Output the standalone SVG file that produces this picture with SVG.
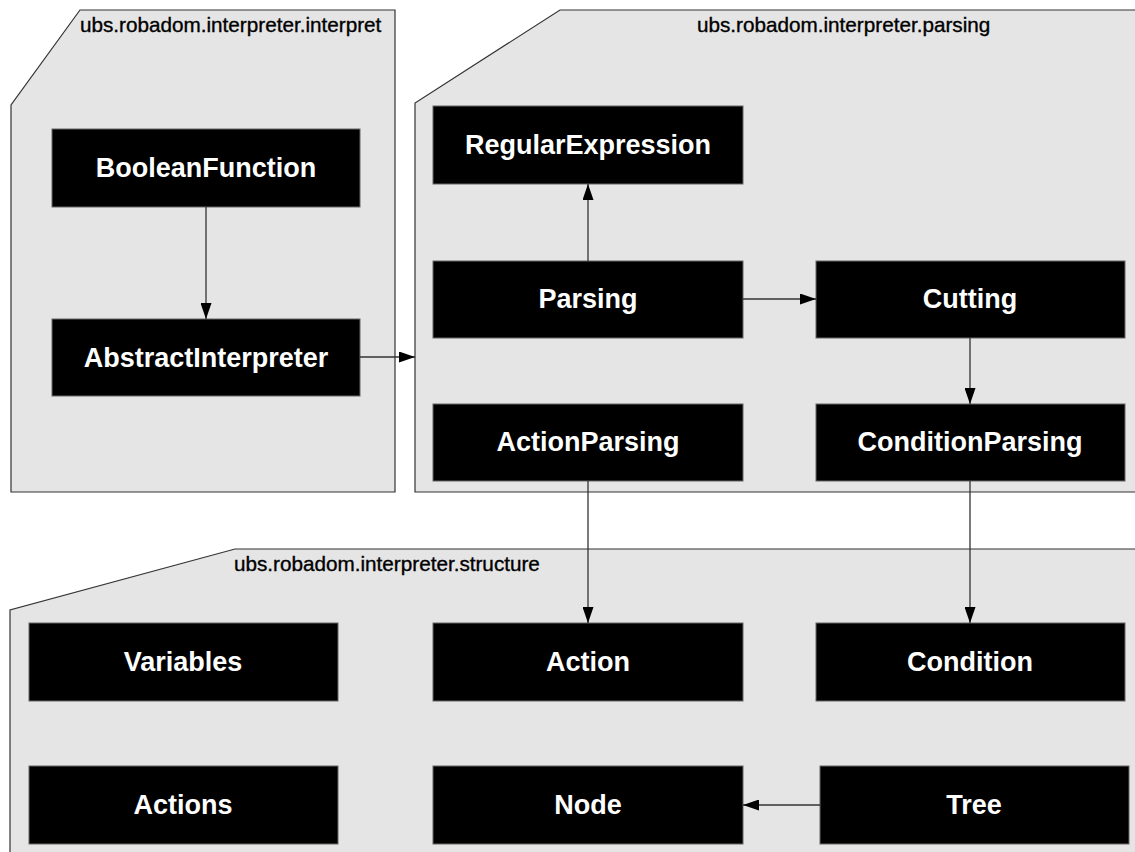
<svg xmlns="http://www.w3.org/2000/svg" width="1135" height="852" viewBox="0 0 1135 852">
<defs>
<marker id="arr" markerWidth="17" markerHeight="11" refX="16" refY="5.5" orient="auto" markerUnits="userSpaceOnUse">
<path d="M0,0 L16,5.5 L0,11 Z" fill="#000"/>
</marker>
<style>
.pkg{fill:#e5e5e5;stroke:#333;stroke-width:1.2}
.pl{font-family:"Liberation Sans",Arial,sans-serif;font-size:20.7px;fill:#000;stroke:#000;stroke-width:0.35}
.box{fill:#000;stroke:#666;stroke-width:1}
.nt{font-family:"Liberation Sans",Arial,sans-serif;font-size:27px;font-weight:bold;fill:#fff;text-anchor:middle}
.edge{stroke:#333;stroke-width:1.3;fill:none;marker-end:url(#arr)}
</style>
</defs>
<rect width="1135" height="852" fill="#fff"/>
<g id="pkg-interpret">
<path class="pkg" d="M80,10 L395,10 L395,492 L11,492 L11,105 Z"/>
<text class="pl" x="80" y="32">ubs.robadom.interpreter.interpret</text>
</g>
<g id="pkg-parsing">
<path class="pkg" d="M560,10 L1140,10 L1140,492 L415,492 L415,103 Z"/>
<text class="pl" x="697" y="32">ubs.robadom.interpreter.parsing</text>
</g>
<g id="pkg-structure">
<path class="pkg" d="M235,549 L1140,549 L1140,860 L10,860 L10,610 Z"/>
<text class="pl" x="234" y="571">ubs.robadom.interpreter.structure</text>
</g>
<g id="BooleanFunction"><rect class="box" x="52" y="129" width="308" height="78"/><text class="nt" x="206" y="177">BooleanFunction</text></g>
<g id="AbstractInterpreter"><rect class="box" x="52" y="319" width="308" height="77"/><text class="nt" x="206" y="367">AbstractInterpreter</text></g>
<g id="RegularExpression"><rect class="box" x="433" y="106" width="310" height="78"/><text class="nt" x="588" y="154">RegularExpression</text></g>
<g id="Parsing"><rect class="box" x="433" y="261" width="310" height="77"/><text class="nt" x="588" y="308">Parsing</text></g>
<g id="Cutting"><rect class="box" x="816" y="261" width="309" height="77"/><text class="nt" x="970" y="308">Cutting</text></g>
<g id="ActionParsing"><rect class="box" x="433" y="404" width="310" height="77"/><text class="nt" x="588" y="451">ActionParsing</text></g>
<g id="ConditionParsing"><rect class="box" x="816" y="404" width="309" height="77"/><text class="nt" x="970" y="451">ConditionParsing</text></g>
<g id="Variables"><rect class="box" x="29" y="623" width="309" height="78"/><text class="nt" x="183" y="671">Variables</text></g>
<g id="Action"><rect class="box" x="433" y="623" width="310" height="78"/><text class="nt" x="588" y="671">Action</text></g>
<g id="Condition"><rect class="box" x="816" y="623" width="309" height="78"/><text class="nt" x="970" y="671">Condition</text></g>
<g id="Actions"><rect class="box" x="29" y="766" width="309" height="78"/><text class="nt" x="183" y="814">Actions</text></g>
<g id="Node"><rect class="box" x="433" y="766" width="310" height="78"/><text class="nt" x="588" y="814">Node</text></g>
<g id="Tree"><rect class="box" x="820" y="766" width="309" height="78"/><text class="nt" x="974" y="814">Tree</text></g>
<g id="connectors">
<line class="edge" x1="206" y1="207" x2="206" y2="319"/>
<line class="edge" x1="360" y1="357" x2="415" y2="357"/>
<line class="edge" x1="588" y1="261" x2="588" y2="184"/>
<line class="edge" x1="743" y1="299" x2="816" y2="299"/>
<line class="edge" x1="970" y1="338" x2="970" y2="404"/>
<line class="edge" x1="588" y1="481" x2="588" y2="623"/>
<line class="edge" x1="970" y1="481" x2="970" y2="623"/>
<line class="edge" x1="820" y1="805" x2="743" y2="805"/>
</g>
</svg>
